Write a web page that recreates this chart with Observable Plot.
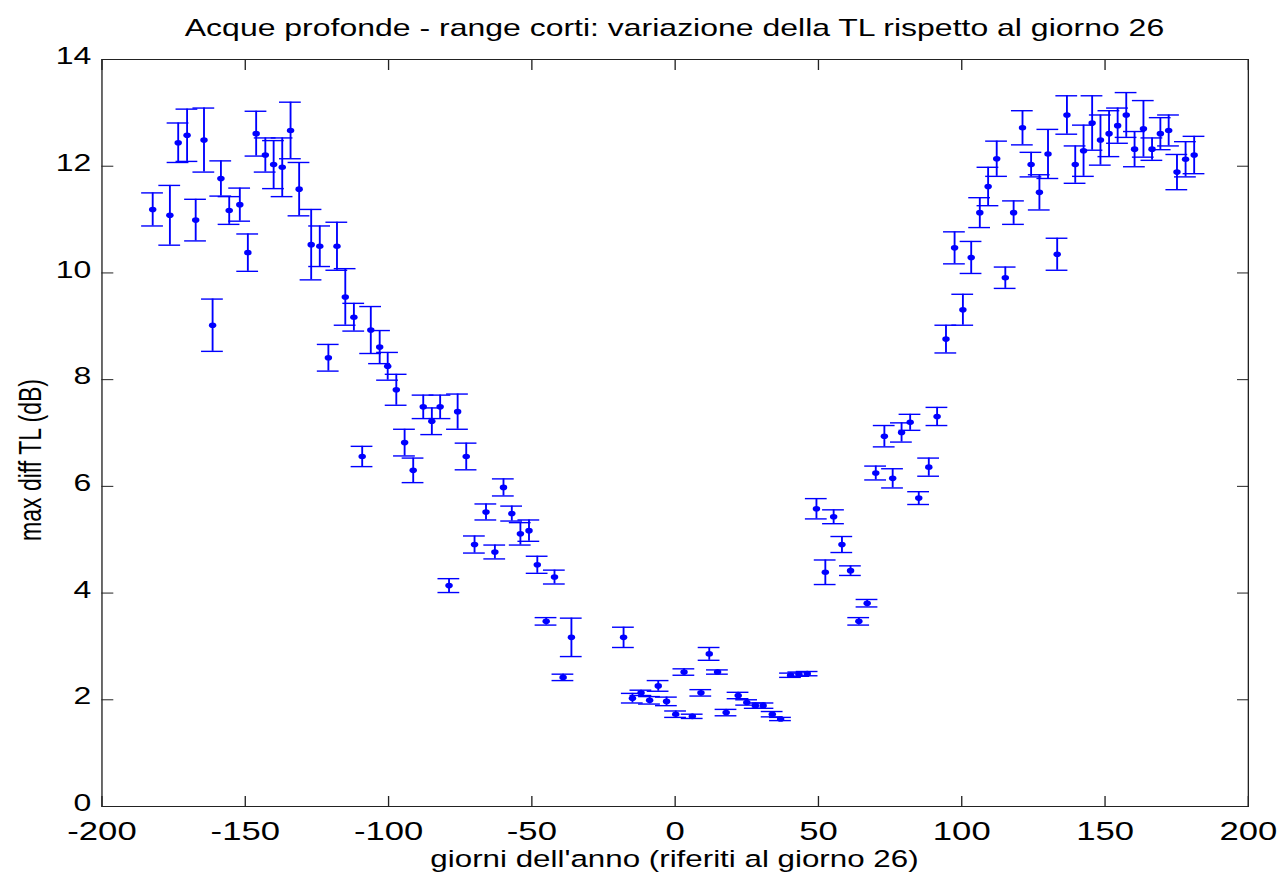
<!DOCTYPE html>
<html>
<head>
<meta charset="utf-8">
<script src="https://cdn.jsdelivr.net/npm/d3@7"></script>
<script src="https://cdn.jsdelivr.net/npm/@observablehq/plot@0.6"></script>
<style>
  html, body { margin: 0; padding: 0; background: #fff; overflow: hidden; }
  #chart { width: 1281px; height: 881px; }
</style>
</head>
<body>
<div id="chart"></div>
<script>
// ---- data ----
const days = [
  -182.3, -176.3, -173.4, -170.3, -167.3, -164.4, -161.4, -158.5, -155.6, -151.9,
  -149.1, -146.2, -143.0, -140.1, -137.1, -134.2, -131.2, -127.0, -124.0, -121.0,
  -118.0, -115.1, -112.1, -109.2, -106.2, -103.1, -100.3, -97.3, -94.4, -91.4,
  -87.9, -84.9, -82.0, -78.9, -75.9, -72.9, -70.0, -66.0, -62.9, -59.9,
  -57.0, -54.0, -51.0, -48.1, -45.0, -42.1, -39.1, -36.2, -18.0, -14.9,
  -11.9, -8.9, -5.9, -3.0, 0.2, 3.1, 6.0, 9.0, 11.9, 14.8,
  17.8, 22.0, 25.0, 28.0, 30.7, 33.9, 36.8, 40.3, 43.2, 46.1,
  49.3, 52.4, 55.3, 58.2, 61.2, 64.1, 67.0, 70.0, 73.0, 75.9,
  79.0, 82.0, 85.0, 88.5, 91.4, 94.5, 97.5, 100.4, 103.3, 106.3,
  109.2, 112.2, 115.2, 118.1, 121.2, 124.2, 127.1, 130.1, 133.3, 136.7,
  139.6, 142.5, 145.5, 148.4, 151.4, 154.4, 157.4, 160.3, 163.4, 166.4,
  169.3, 172.2, 175.1, 178.1, 181.1
];
const maxDiffTL = [
  11.19, 11.08, 12.44, 12.58, 10.99, 12.49, 9.02, 11.77, 11.17, 11.28,
  10.38, 12.61, 12.21, 12.03, 11.98, 12.67, 11.57, 10.53, 10.50, 8.41,
  10.50, 9.55, 9.17, 6.56, 8.93, 8.61, 8.25, 7.81, 6.82, 6.30,
  7.49, 7.22, 7.49, 4.14, 7.40, 6.56, 4.91, 5.52, 4.77, 5.98,
  5.49, 5.11, 5.17, 4.53, 3.47, 4.30, 2.42, 3.17, 3.17, 2.03,
  2.13, 1.99, 2.26, 1.97, 1.73, 2.52, 1.69, 2.13, 2.86, 2.52,
  1.76, 2.08, 1.95, 1.89, 1.89, 1.73, 1.64, 2.46, 2.48, 2.49,
  5.58, 4.39, 5.43, 4.91, 4.42, 3.47, 3.81, 6.25, 6.94, 6.15,
  7.01, 7.20, 5.78, 6.36, 7.31, 8.76, 10.47, 9.31, 10.29, 11.13,
  11.62, 12.14, 9.91, 11.13, 12.72, 12.03, 11.51, 12.23, 10.35, 12.96,
  12.03, 12.29, 12.81, 12.49, 12.61, 12.76, 12.96, 12.32, 12.70, 12.32,
  12.61, 12.67, 11.89, 12.13, 12.21
];
const errTL = [
  0.31, 0.56, 0.37, 0.49, 0.39, 0.60, 0.49, 0.33, 0.26, 0.31,
  0.35, 0.42, 0.32, 0.45, 0.55, 0.53, 0.50, 0.66, 0.38, 0.25,
  0.45, 0.53, 0.26, 0.19, 0.44, 0.31, 0.26, 0.29, 0.25, 0.23,
  0.22, 0.25, 0.22, 0.13, 0.33, 0.25, 0.16, 0.15, 0.13, 0.16,
  0.14, 0.21, 0.20, 0.16, 0.07, 0.13, 0.06, 0.36, 0.19, 0.09,
  0.05, 0.07, 0.10, 0.08, 0.06, 0.06, 0.04, 0.06, 0.12, 0.04,
  0.06, 0.06, 0.05, 0.05, 0.05, 0.05, 0.03, 0.04, 0.04, 0.04,
  0.19, 0.23, 0.13, 0.15, 0.09, 0.07, 0.07, 0.13, 0.20, 0.18,
  0.18, 0.15, 0.12, 0.17, 0.17, 0.26, 0.30, 0.29, 0.30, 0.28,
  0.36, 0.33, 0.20, 0.22, 0.32, 0.23, 0.33, 0.46, 0.30, 0.36,
  0.35, 0.48, 0.51, 0.47, 0.43, 0.33, 0.42, 0.33, 0.53, 0.21,
  0.30, 0.29, 0.33, 0.33, 0.35
];
const xTicks = [-200, -150, -100, -50, 0, 50, 100, 150, 200];
const yTicks = [0, 2, 4, 6, 8, 10, 12, 14];
const titleText = "Acque profonde - range corti: variazione della TL rispetto al giorno 26";
const xLabelText = "giorni dell'anno (riferiti al giorno 26)";
const yLabelText = "max diff TL (dB)";

// ---- build table ----
const rows = days.map((d, i) => ({x: d, y: maxDiffTL[i], e: errTL[i]}));

// The reference image is horizontally stretched; draw on a narrower canvas
// and stretch it to the full page width.
const OUT_W = 1281, OUT_H = 881;
const W = 961;
const CAP = 3.8;          // half-width of error bar caps, in days
const BLUE = "#0000ff";
const FONT = "'Liberation Sans', Arial, Helvetica, sans-serif";

const plot = Plot.plot({
  width: W,
  height: OUT_H,
  marginLeft: 76,
  marginRight: 25,
  marginTop: 59,
  marginBottom: 75,
  style: {fontFamily: FONT, background: "#fff", color: "#000"},
  x: {domain: [-200, 200]},
  y: {domain: [0, 14]},
  marks: [
    // error bars
    Plot.ruleX(rows, {x: "x", y1: d => d.y - d.e, y2: d => d.y + d.e, stroke: BLUE, strokeWidth: 1.4}),
    Plot.ruleY(rows, {y: d => d.y + d.e, x1: d => d.x - CAP, x2: d => d.x + CAP, stroke: BLUE, strokeWidth: 1.4}),
    Plot.ruleY(rows, {y: d => d.y - d.e, x1: d => d.x - CAP, x2: d => d.x + CAP, stroke: BLUE, strokeWidth: 1.4}),
    Plot.dot(rows, {x: "x", y: "y", r: 2.8, fill: BLUE, stroke: "none"}),
    // inward ticks on all four sides
    Plot.axisX({anchor: "bottom", ticks: xTicks, tickSize: -10, tickFormat: () => "", label: null, stroke: "#222"}),
    Plot.axisX({anchor: "top", ticks: xTicks, tickSize: -10, tickFormat: () => "", label: null, stroke: "#222"}),
    Plot.axisY({anchor: "left", ticks: yTicks, tickSize: -9, tickFormat: () => "", label: null, stroke: "#222"}),
    Plot.axisY({anchor: "right", ticks: yTicks, tickSize: -9, tickFormat: () => "", label: null, stroke: "#222"}),
    // tick labels
    Plot.axisX({anchor: "bottom", ticks: xTicks, tickSize: 0, tickPadding: 15, label: null, fontSize: 26, tickFormat: d => String(d)}),
    Plot.axisY({anchor: "left", ticks: yTicks, tickSize: 0, tickPadding: 8, dy: -3, label: null, fontSize: 24, tickFormat: d => String(d)}),
    Plot.frame({stroke: "#222", strokeWidth: 1})
  ]
});

const svg = d3.select(plot);
svg.attr("width", OUT_W).attr("height", OUT_H)
   .attr("viewBox", `0 0 ${W} ${OUT_H}`)
   .attr("preserveAspectRatio", "none")
   .style("width", OUT_W + "px").style("height", OUT_H + "px")
   .style("max-width", "none");

const cx = (76 + (W - 25)) / 2;
svg.append("text")
  .attr("x", cx).attr("y", 36)
  .attr("text-anchor", "middle")
  .attr("font-family", FONT).attr("font-size", 24).attr("fill", "#000")
  .text(titleText);
svg.append("text")
  .attr("x", cx).attr("y", 867)
  .attr("text-anchor", "middle")
  .attr("font-family", FONT).attr("font-size", 23.5).attr("fill", "#000")
  .text(xLabelText);
svg.append("text")
  .attr("transform", `translate(31,460) rotate(-90)`)
  .attr("text-anchor", "middle")
  .attr("font-family", FONT).attr("font-size", 23).attr("fill", "#000")
  .text(yLabelText);

document.getElementById("chart").appendChild(plot);
</script>
</body>
</html>
